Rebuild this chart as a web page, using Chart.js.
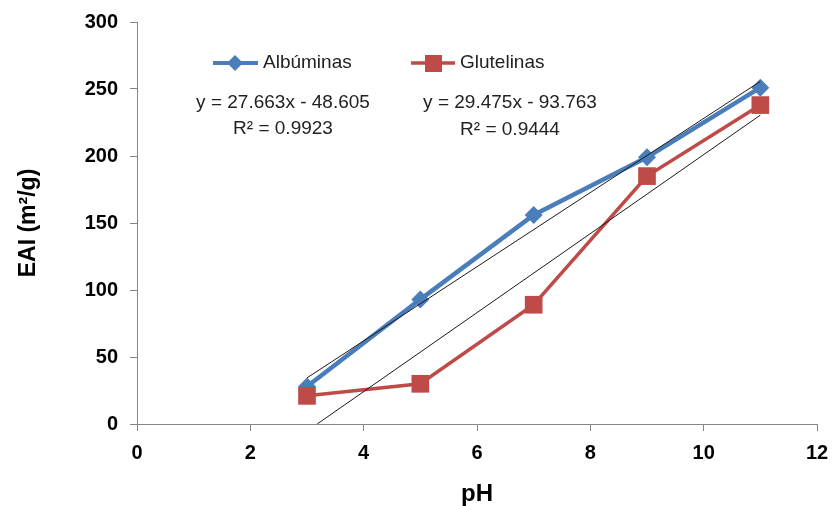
<!DOCTYPE html>
<html>
<head>
<meta charset="utf-8">
<script src="https://cdn.jsdelivr.net/npm/chart.js@4"></script>
<style>
  html, body { margin: 0; padding: 0; background: #fff; }
  #wrap { width: 835px; height: 506px; }
</style>
</head>
<body>
<div id="wrap"><canvas id="eaiChart" width="835" height="506"></canvas></div>
<script>
// pH values and EAI (m2/g)
const phValues = [3, 5, 7, 9, 11];
const albuminas = [28, 93, 156, 199, 251];
const glutelinas = [21, 30, 89, 185, 238];

// linear trendline end points (as drawn)
const albTrendX = [3, 11];
const albTrendY = [34.4, 255.7];
const gluTrendX = [3.18, 11];
const gluTrendY = [0, 230.5];

const xTicks = [0, 2, 4, 6, 8, 10, 12];
const yTicks = [0, 50, 100, 150, 200, 250, 300];

const albEq = ["y = 27.663x - 48.605", "R\u00B2 = 0.9923"];
const gluEq = ["y = 29.475x - 93.763", "R\u00B2 = 0.9444"];

const BLUE = "#4a7ebb";
const RED = "#be4b48";
const AXIS = "#868686";

const toPoints = (xs, ys) => xs.map((x, i) => ({ x: x, y: ys[i] }));

// legend + trendline equations, drawn like the Excel original
const overlay = {
  id: "overlay",
  afterDraw(chart) {
    const c = chart.ctx;
    c.save();
    c.font = "19px 'Liberation Sans', Arial, sans-serif";
    c.textBaseline = "middle";

    // legend: Albúminas
    c.strokeStyle = BLUE;
    c.lineWidth = 4;
    c.beginPath(); c.moveTo(213, 63); c.lineTo(258, 63); c.stroke();
    c.fillStyle = BLUE;
    c.beginPath();
    c.moveTo(235, 55); c.lineTo(243, 63); c.lineTo(235, 71); c.lineTo(227, 63);
    c.closePath(); c.fill();
    c.fillStyle = "#222";
    c.textAlign = "left";
    c.fillText("Alb\u00FAminas", 263, 63);

    // legend: Glutelinas
    c.strokeStyle = RED;
    c.lineWidth = 3.5;
    c.beginPath(); c.moveTo(411, 63); c.lineTo(455, 63); c.stroke();
    c.fillStyle = RED;
    c.fillRect(425, 55, 17, 17);
    c.fillStyle = "#222";
    c.fillText("Glutelinas", 460, 63);

    // equations
    c.textAlign = "center";
    c.fillText(albEq[0], 283, 103);
    c.fillText(albEq[1], 283, 129);
    c.fillText(gluEq[0], 510, 103);
    c.fillText(gluEq[1], 510, 130);
    c.restore();
  }
};

const ctx = document.getElementById("eaiChart").getContext("2d");

new Chart(ctx, {
  type: "scatter",
  data: {
    datasets: [
      {
        label: "Tendencia Albúminas",
        data: toPoints(albTrendX, albTrendY),
        showLine: true,
        borderColor: "#1a1a1a",
        borderWidth: 1,
        pointRadius: 0,
        order: 0
      },
      {
        label: "Tendencia Glutelinas",
        data: toPoints(gluTrendX, gluTrendY),
        showLine: true,
        borderColor: "#1a1a1a",
        borderWidth: 1,
        pointRadius: 0,
        order: 0
      },
      {
        label: "Glutelinas",
        data: toPoints(phValues, glutelinas),
        showLine: true,
        borderColor: RED,
        backgroundColor: RED,
        borderWidth: 3.5,
        pointStyle: "rect",
        pointRadius: 12.5,
        pointBorderWidth: 0,
        order: 1
      },
      {
        label: "Albúminas",
        data: toPoints(phValues, albuminas),
        showLine: true,
        borderColor: BLUE,
        backgroundColor: BLUE,
        borderWidth: 4.5,
        pointStyle: "rectRot",
        pointRadius: 9,
        pointBorderWidth: 0,
        order: 2
      }
    ]
  },
  options: {
    responsive: false,
    animation: false,
    layout: { padding: { top: 22, right: 18, left: 0, bottom: 0 } },
    plugins: {
      legend: { display: false },
      tooltip: { enabled: false }
    },
    scales: {
      x: {
        type: "linear",
        min: 0,
        max: 12,
        afterBuildTicks: (axis) => { axis.ticks = xTicks.map(v => ({ value: v })); },
        afterFit: (axis) => { axis.height = 82; axis.paddingRight = 0; axis.paddingLeft = 0; },
        grid: { drawOnChartArea: false, tickLength: 7, color: AXIS },
        border: { color: AXIS, width: 1 },
        ticks: {
          color: "#000",
          padding: 10,
          font: { family: "'Liberation Sans', Arial", size: 20, weight: "bold" }
        },
        title: {
          display: true,
          text: "pH",
          color: "#000",
          padding: { top: 0, bottom: 0 },
          font: { family: "'Liberation Sans', Arial", size: 24, weight: "bold", lineHeight: 1 }
        }
      },
      y: {
        type: "linear",
        min: 0,
        max: 300,
        afterBuildTicks: (axis) => { axis.ticks = yTicks.map(v => ({ value: v })); },
        afterFit: (axis) => { axis.width = 137; axis.paddingTop = 0; axis.paddingBottom = 0; },
        grid: { drawOnChartArea: false, tickLength: 7, color: AXIS },
        border: { color: AXIS, width: 1 },
        ticks: {
          color: "#000",
          padding: 12,
          font: { family: "'Liberation Sans', Arial", size: 20, weight: "bold" }
        },
        title: {
          display: true,
          text: "EAI (m\u00B2/g)",
          color: "#000",
          padding: { top: 17, bottom: 0 },
          font: { family: "'Liberation Sans', Arial", size: 23, weight: "bold", lineHeight: 1 }
        }
      }
    }
  },
  plugins: [overlay]
});
</script>
</body>
</html>
